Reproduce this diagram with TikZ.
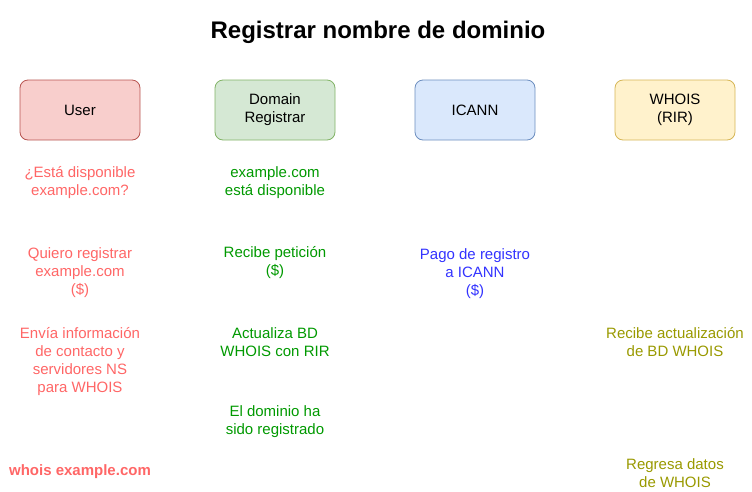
\documentclass[tikz,border=0pt]{standalone}
\usepackage{fontspec}
\setmainfont{Liberation Sans}
\definecolor{redfill}{HTML}{F8CECC}
\definecolor{redline}{HTML}{B85450}
\definecolor{greenfill}{HTML}{D5E8D4}
\definecolor{greenline}{HTML}{82B366}
\definecolor{bluefill}{HTML}{DAE8FC}
\definecolor{blueline}{HTML}{6C8EBF}
\definecolor{yellowfill}{HTML}{FFF2CC}
\definecolor{yellowline}{HTML}{D6B656}
\definecolor{usertext}{HTML}{FF6666}
\definecolor{regtext}{HTML}{009900}
\definecolor{icanntext}{HTML}{3333FF}
\definecolor{whoistext}{HTML}{999900}
\tikzset{
  actor/.style={draw, rounded corners=8pt, minimum width=120pt, minimum height=60pt,
    align=center, inner sep=0pt, font=\fontsize{15}{18}\selectfont, line width=0.8pt},
  msg/.style={align=center, inner sep=0pt, font=\fontsize{15}{18}\selectfont},
}
\begin{document}
\begin{tikzpicture}[x=1pt,y=-1pt]
\useasboundingbox (0,0) rectangle (752,491);
\node[font=\fontsize{24}{28}\selectfont\bfseries] (title) at (378,32) {Registrar nombre de dominio};
\node[actor, fill=redfill, draw=redline] (user) at (80,110) {User};
\node[actor, fill=greenfill, draw=greenline] (reg) at (275,110) {Domain\\Registrar};
\node[actor, fill=bluefill, draw=blueline] (icann) at (475,110) {ICANN};
\node[actor, fill=yellowfill, draw=yellowline] (whois) at (675,110) {WHOIS\\(RIR)};
\node[msg, text=usertext] (u1) at (80,183) {¿Está disponible\\example.com?};
\node[msg, text=regtext] (r1) at (275,183) {example.com\\está disponible};
\node[msg, text=usertext] (u2) at (80,273) {Quiero registrar\\example.com\\(\$)};
\node[msg, text=regtext] (r2) at (275,263) {Recibe petición\\(\$)};
\node[msg, text=icanntext] (i1) at (475,274) {Pago de registro\\a ICANN\\(\$)};
\node[msg, text=usertext] (u3) at (80,362) {Envía información\\de contacto y\\servidores NS\\para WHOIS};
\node[msg, text=regtext] (r3) at (275,342) {Actualiza BD\\WHOIS con RIR};
\node[msg, text=whoistext] (w1) at (675,342) {Recibe actualización\\de BD WHOIS};
\node[msg, text=regtext] (r4) at (275,422) {El dominio ha\\sido registrado};
\node[msg, text=usertext, font=\fontsize{15}{18}\selectfont\bfseries] (u4) at (80,472) {whois example.com};
\node[msg, text=whoistext] (w2) at (675,473) {Regresa datos\\de WHOIS};
\end{tikzpicture}
\end{document}
